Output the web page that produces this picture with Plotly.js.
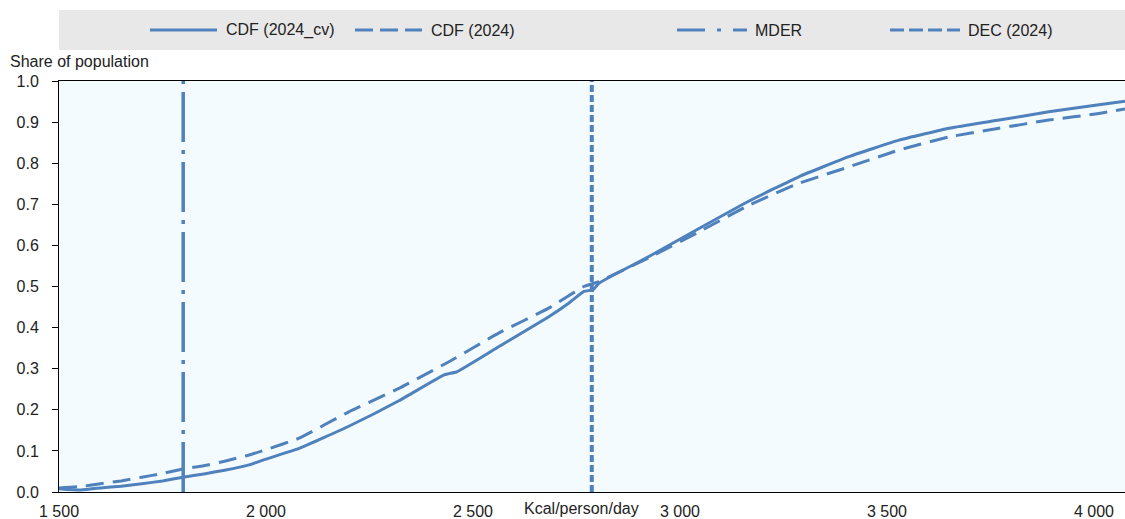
<!DOCTYPE html>
<html>
<head>
<meta charset="utf-8">
<script src="https://cdn.plot.ly/plotly-3.0.1.min.js"></script>
<style>html,body{margin:0;padding:0;background:#fff;}#chart{width:1125px;height:519px;}</style>
</head>
<body>
<div id="chart"></div>
<script>
// ---- data ----
const seriesNames = ["CDF (2024_cv)", "CDF (2024)", "MDER", "DEC (2024)"];

const kcalCv = [1500,1520,1550,1580,1600,1650,1700,1750,1800,1850,1900,1959,2000,2080,2200,2321,2430,2442,2460,2563,2684,2732,2768,2790,2804,2925,3046,3167,3287,3408,3529,3650,3771,3891,4012,4075];
const cdfCv   = [0.008,0.006,0.005,0.008,0.010,0.014,0.020,0.027,0.036,0.044,0.053,0.066,0.080,0.106,0.160,0.222,0.285,0.288,0.292,0.354,0.427,0.460,0.488,0.492,0.508,0.573,0.641,0.708,0.767,0.816,0.856,0.885,0.905,0.925,0.942,0.951];

const kcal2024 = [1500,1550,1600,1650,1700,1750,1800,1850,1900,1959,2000,2080,2200,2321,2442,2563,2684,2768,2804,2925,3046,3167,3287,3408,3529,3650,3771,3891,4012,4075];
const cdf2024  = [0.010,0.013,0.020,0.027,0.036,0.045,0.056,0.064,0.075,0.090,0.103,0.131,0.195,0.252,0.317,0.387,0.448,0.500,0.512,0.570,0.633,0.698,0.751,0.791,0.832,0.864,0.885,0.905,0.921,0.932];

const mderKcal = 1800;
const decKcal  = 2787;
const verticalShare = [0, 1];

const xTickVals = [1500, 2000, 2500, 3000, 3500, 4000];
const yTickVals = [0, 0.1, 0.2, 0.3, 0.4, 0.5, 0.6, 0.7, 0.8, 0.9, 1.0];

// ---- styling ----
const blue = "rgb(79,129,189)";
const font = "Liberation Sans, Arial, sans-serif";
const W = 1125, H = 519;
const L = 59, R = 1125, T = 81, B = 492;
const px2x = p => (p - L) / (R - L);
const py2y = p => (B - p) / (B - T);

const dashes = ["solid", "18px,9px", "50px,8px,4px,8px", "7px,3px"];
const legendDashes = ["solid", "18px,7px", "28px,12px,4px,12px", "14px,5px"];

const traces = [
  {x: kcalCv, y: cdfCv, name: seriesNames[0], mode: "lines",
   line: {color: blue, width: 3, dash: dashes[0], shape: "spline", smoothing: 0.4}},
  {x: kcal2024, y: cdf2024, name: seriesNames[1], mode: "lines",
   line: {color: blue, width: 3, dash: dashes[1], shape: "spline", smoothing: 0.4}},
  {x: [mderKcal, mderKcal], y: verticalShare, name: seriesNames[2], mode: "lines",
   line: {color: blue, width: 3.5, dash: dashes[2]}},
  {x: [decKcal, decKcal], y: verticalShare, name: seriesNames[3], mode: "lines",
   line: {color: blue, width: 4, dash: dashes[3]}}
];
traces.forEach(t => { t.showlegend = false; t.hoverinfo = "skip"; });

// manual legend (to match long sample lines)
const legendLine = [[150, 217], [355, 422], [677, 747], [890, 960]];
const legendText = [224, 429, 753, 966];
const legendY = 30;

const shapes = [{
  type: "rect", xref: "paper", yref: "paper",
  x0: 0, x1: 1, y0: py2y(50), y1: py2y(10),
  fillcolor: "#e8e8e8", line: {width: 0}, layer: "below"
}];
const annotations = [];
seriesNames.forEach((n, i) => {
  shapes.push({
    type: "line", xref: "paper", yref: "paper",
    x0: px2x(legendLine[i][0]), x1: px2x(legendLine[i][1]),
    y0: py2y(legendY), y1: py2y(legendY),
    line: {color: blue, width: 3, dash: legendDashes[i]}
  });
  annotations.push({
    text: n, xref: "paper", yref: "paper",
    x: px2x(legendText[i]), y: py2y(legendY),
    xanchor: "left", yanchor: "middle", showarrow: false,
    font: {family: font, size: 16, color: "#222"}
  });
});
annotations.push({
  text: "Share of population", xref: "paper", yref: "paper",
  x: px2x(8), y: py2y(62), xanchor: "left", yanchor: "middle",
  showarrow: false, font: {family: font, size: 16, color: "#222"}
});
annotations.push({
  text: "Kcal/person/day", xref: "paper", yref: "paper",
  x: px2x(581), y: py2y(498), xanchor: "center", yanchor: "top",
  showarrow: false, font: {family: font, size: 16, color: "#222"}
});

const layout = {
  width: W, height: H,
  margin: {l: L, r: W - R, t: T, b: H - B, pad: 0},
  paper_bgcolor: "#ffffff",
  plot_bgcolor: "#f4fbfe",
  separators: ". ",
  showlegend: false,
  xaxis: {
    range: [1500, 4075], tickvals: xTickVals, tickformat: ",d",
    showgrid: false, zeroline: false,
    showline: true, linecolor: "#000", linewidth: 1, mirror: true,
    ticks: "", ticklabelstandoff: 5,
    tickfont: {family: font, size: 16, color: "#222"}
  },
  yaxis: {
    range: [0, 1], tickvals: yTickVals, tickformat: ".1f",
    showgrid: false, zeroline: false,
    showline: true, linecolor: "#000", linewidth: 1,
    ticks: "outside", ticklen: 6, tickcolor: "#000", ticklabelstandoff: 10,
    tickfont: {family: font, size: 16, color: "#222"}
  },
  shapes: shapes,
  annotations: annotations
};

Plotly.newPlot("chart", traces, layout, {displayModeBar: false, staticPlot: true});
</script>
</body>
</html>
